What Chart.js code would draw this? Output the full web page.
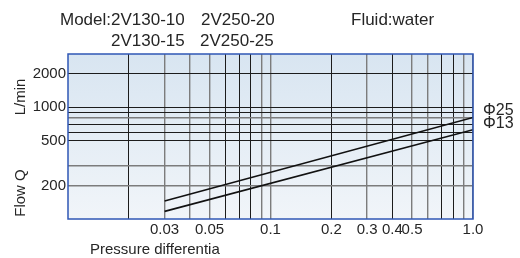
<!DOCTYPE html>
<html>
<head>
<meta charset="utf-8">
<script src="https://cdn.jsdelivr.net/npm/chart.js@4/dist/chart.umd.min.js"></script>
<style>
  html, body { margin: 0; padding: 0; background: #ffffff; }
  #wrap { width: 520px; height: 258px; position: relative; }
</style>
</head>
<body>
<div id="wrap"><canvas id="c" width="520" height="258"></canvas></div>
<script>
// ---- data ----
const pressure = [0.03, 1.0];            // MPa, x of each line end
const flowPhi25 = [145, 810];            // L/min
const flowPhi13 = [117, 630];            // L/min
const seriesNames = ['Φ25', 'Φ13'];

const xGridValues = [0.02, 0.03, 0.04, 0.05, 0.06, 0.07, 0.08, 0.09,
                     0.1, 0.2, 0.3, 0.4, 0.5, 0.6, 0.7, 0.8, 0.9, 1.0];
const xLabelValues = [0.03, 0.05, 0.1, 0.2, 0.3, 0.4, 0.5, 1.0];
const xLabelTexts  = ['0.03', '0.05', '0.1', '0.2', '0.3', '0.4', '0.5', '1.0'];

const yGridValues = [2000, 1000, 900, 800, 700, 600, 500, 300, 200];
const yLabelValues = [2000, 1000, 500, 200];
const yLabelTexts  = ['2000', '1000', '500', '200'];

const xRange = [0.01, 1.0];
const yRange = [100, 3000];

// ---- styles ----
const FONT = '"Liberation Sans", Arial, sans-serif';
const TXT = '#262626';
const DARK = '#1c1c1c', GRAY = '#7c7c7c';
const xDark = new Set([0.02, 0.06, 0.07, 0.08, 0.2, 0.4, 0.7, 0.8]);
const yDark = new Set([2000, 1000, 900, 700, 600, 500]);

function findLabel(vals, texts, v) {
  for (let i = 0; i < vals.length; i++) {
    if (Math.abs(vals[i] - v) / vals[i] < 1e-6) return texts[i];
  }
  return '';
}
function inSet(set, v) {
  for (const s of set) if (Math.abs(s - v) / s < 1e-6) return true;
  return false;
}

const decor = {
  id: 'decor',
  beforeDraw(chart) {
    const { ctx, chartArea: a } = chart;
    ctx.save();
    const g = ctx.createLinearGradient(0, a.top, 0, a.bottom);
    g.addColorStop(0, '#d8e5f1');
    g.addColorStop(1, '#f1f5f9');
    ctx.fillStyle = g;
    ctx.fillRect(a.left, a.top, a.right - a.left, a.bottom - a.top);
    ctx.restore();
  },
  afterDraw(chart) {
    const { ctx, chartArea: a } = chart;
    ctx.save();
    ctx.strokeStyle = '#2f57b5';
    ctx.lineWidth = 1.5;
    ctx.strokeRect(a.left, a.top, a.right - a.left, a.bottom - a.top);

    ctx.fillStyle = TXT;
    ctx.textBaseline = 'alphabetic';
    ctx.textAlign = 'left';
    ctx.font = '17px ' + FONT;
    ctx.fillText('Model:2V130-10', 60, 25);
    ctx.fillText('2V250-20', 201, 25);
    ctx.fillText('Fluid:water', 351, 25);
    ctx.fillText('2V130-15', 111, 46);
    ctx.fillText('2V250-25', 200, 46);

    ctx.font = '15px ' + FONT;
    ctx.fillText('Pressure differentia', 90, 254);

    // series labels at right end
    ctx.font = '16px ' + FONT;
    ctx.textBaseline = 'middle';
    ctx.fillText(seriesNames[0], a.right + 10, 111);
    ctx.fillText(seriesNames[1], a.right + 10, 124);

    // y titles (rotated)
    ctx.font = '15px ' + FONT;
    ctx.textAlign = 'center';
    ctx.save();
    ctx.translate(21, 97);
    ctx.rotate(-Math.PI / 2);
    ctx.fillText('L/min', 0, 0);
    ctx.restore();
    ctx.save();
    ctx.translate(21, 193);
    ctx.rotate(-Math.PI / 2);
    ctx.fillText('Flow Q', 0, 0);
    ctx.restore();
    ctx.restore();
  }
};

const toPts = (xs, ys) => xs.map((x, i) => ({ x, y: ys[i] }));

new Chart(document.getElementById('c'), {
  type: 'line',
  data: {
    datasets: [
      { label: seriesNames[0], data: toPts(pressure, flowPhi25) },
      { label: seriesNames[1], data: toPts(pressure, flowPhi13) }
    ]
  },
  options: {
    responsive: false,
    animation: false,
    events: [],
    layout: { padding: { top: 54, right: 47, left: 0, bottom: 0 } },
    elements: {
      line: { borderColor: '#111', borderWidth: 1.6, tension: 0 },
      point: { radius: 0 }
    },
    plugins: { legend: { display: false }, tooltip: { enabled: false }, title: { display: false } },
    scales: {
      x: {
        type: 'logarithmic',
        min: xRange[0], max: xRange[1],
        afterBuildTicks: s => { s.ticks = xGridValues.map(v => ({ value: v })); },
        afterFit: s => { s.height = 39; },
        border: { display: false },
        grid: {
          drawTicks: false,
          color: c => (c.tick && inSet(xDark, c.tick.value)) ? DARK : GRAY,
          lineWidth: c => (c.tick && inSet(xDark, c.tick.value)) ? 1 : 1.4
        },
        ticks: {
          autoSkip: false, maxRotation: 0, minRotation: 0, padding: 2,
          color: TXT, font: { family: FONT, size: 15 },
          callback: v => findLabel(xLabelValues, xLabelTexts, v)
        }
      },
      y: {
        type: 'logarithmic',
        min: yRange[0], max: yRange[1],
        afterBuildTicks: s => { s.ticks = yGridValues.map(v => ({ value: v })); },
        afterFit: s => { s.width = 68; },
        border: { display: false },
        grid: {
          drawTicks: false,
          color: c => (c.tick && inSet(yDark, c.tick.value)) ? DARK : GRAY,
          lineWidth: c => (c.tick && inSet(yDark, c.tick.value)) ? 1 : 1.4
        },
        ticks: {
          autoSkip: false, padding: 2,
          color: TXT, font: { family: FONT, size: 15 },
          callback: v => findLabel(yLabelValues, yLabelTexts, v)
        }
      }
    }
  },
  plugins: [decor]
});
</script>
</body>
</html>
